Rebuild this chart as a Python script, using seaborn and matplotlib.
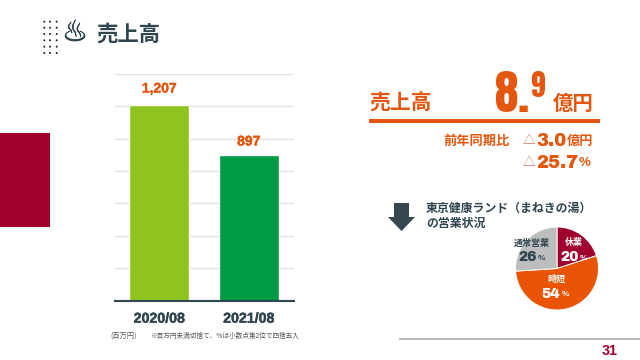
import matplotlib
matplotlib.use('Agg')
import logging
import matplotlib.pyplot as plt
import matplotlib.patheffects as pe
import pandas as pd
import seaborn as sns
from matplotlib.patches import Ellipse, Polygon, Rectangle

logging.getLogger('matplotlib.font_manager').setLevel(logging.ERROR)

periods = ['2020/08', '2021/08']
sales = [1207, 897]
bar_colors = ['#8FC31F', '#009944']
label_pads = [7, 5]

pie_labels = ['休業', '時短', '通常営業']
pie_values = [20, 54, 26]
pie_colors = ['#A0002D', '#E95504', '#BDBDBD']

DARK = '#2F4550'
ORANGE = '#E4570F'
RED = '#A0002D'
JP = ['Noto Sans CJK JP', 'DejaVu Sans']
LAT = ['Liberation Sans', 'Noto Sans CJK JP']
HEAVY = ['Archivo Black', 'Liberation Sans']
TALL = ['Anton', 'Liberation Sans']

sns.set_theme(style='whitegrid')
plt.rcParams['font.family'] = JP

W, H = 640, 360
fig = plt.figure(figsize=(6.4, 3.6), dpi=100, facecolor='white')


def px_axes(left, top, right, bottom):
    return fig.add_axes([left / W, 1 - bottom / H, (right - left) / W, (bottom - top) / H])


def txt(x, y, s, size, color=DARK, ha='left', family=JP, weight='bold', va='center', **kw):
    return fig.text(x / W, 1 - y / H, s, fontsize=size, color=color, ha=ha, va=va,
                    family=family, fontweight=weight, **kw)


def box(left, top, right, bottom, color):
    fig.add_artist(Rectangle((left / W, 1 - bottom / H), (right - left) / W, (bottom - top) / H,
                             transform=fig.transFigure, color=color, lw=0))


def stroke(t, w=0.3):
    t.set_path_effects([pe.withStroke(linewidth=w, foreground=t.get_color())])


# left block, header
box(0, 133, 50, 227, RED)
for col in [44.3, 50, 56.7]:
    for row in [21.7, 27.7, 34, 40.3, 46.7, 53]:
        fig.add_artist(Ellipse((col / W, 1 - row / H), 2 / W, 2 / H, transform=fig.transFigure,
                               color='#222222', lw=0))
stroke(txt(75, 33, '♨', 21, family=['DejaVu Sans'], ha='center', weight='normal'), 0.5)
txt(96.5, 34, '売上高', 15.4)

# bar chart
ax = px_axes(114.5, 74, 293.5, 300.5)
df = pd.DataFrame({'period': periods, 'sales': sales})
sns.barplot(data=df, x='period', y='sales', hue='period', palette=bar_colors, width=0.665,
            legend=False, saturation=1, ax=ax)
ax.set_ylim(0, 1400)
ax.set_yticks(range(0, 1401, 200))
ax.set_yticklabels([])
ax.set_xlabel('')
ax.set_ylabel('')
ax.grid(axis='y', color='#E2E2E2', lw=1)
ax.grid(axis='x', visible=False)
ax.set_axisbelow(True)
for s in ['top', 'left', 'right']:
    ax.spines[s].set_visible(False)
ax.spines['bottom'].set_color(DARK)
ax.spines['bottom'].set_linewidth(1.5)
ax.tick_params(axis='x', length=0, pad=8)
ax.tick_params(axis='y', length=0)
for t in ax.get_xticklabels():
    t.set_family(LAT)
    t.set_fontweight('bold')
    t.set_fontsize(10.2)
    t.set_color(DARK)
    stroke(t)
for cont, pad in zip(ax.containers, label_pads):
    for t in ax.bar_label(cont, fmt='{:,.0f}', padding=pad, color=ORANGE, fontsize=10, fontweight='bold', family=LAT):
        stroke(t)

txt(110, 336, '(百万円)', 5.2, color='#555555', weight='normal')
txt(150, 336, '※百万円未満切捨て、%は小数点第2位で四捨五入', 4.8, color='#555555', weight='normal')

# right block
txt(369, 103, '売上高', 15, color=ORANGE)
txt(495, 112, '8.', 34, color=ORANGE, family=TALL, va='baseline', weight='normal')
txt(530, 97, '9', 21, color=ORANGE, family=TALL, va='baseline', weight='normal')
txt(553, 103, '億円', 14.7, color=ORANGE)
box(369, 119, 600, 123, ORANGE)

txt(443, 141, '前年同期比', 9.5, color=ORANGE)
txt(523, 141, '△', 9, color='#C8775A', weight='normal')
txt(536, 146, '3.0', 13, color=ORANGE, family=HEAVY, va='baseline', weight='normal')
txt(567, 141, '億円', 9.5, color=ORANGE)
txt(523, 163, '△', 9, color='#C8775A', weight='normal')
txt(536, 168, '25.7', 13, color=ORANGE, family=HEAVY, va='baseline', weight='normal')
txt(579, 163, '%', 9.5, color=ORANGE, family=LAT)

arrow = [(394, 203), (409, 203), (409, 217), (415, 217), (401.5, 231), (388, 217), (394, 217)]
fig.add_artist(Polygon([(x / W, 1 - y / H) for x, y in arrow], closed=True, transform=fig.transFigure,
                       color='#37474F', lw=0))
txt(426, 208, '東京健康ランド（まねきの湯）', 8.6)
txt(426, 223, 'の営業状況', 8.6)

# pie
pie_ax = px_axes(515, 227, 599, 310)
pie_ax.pie(pie_values, colors=pie_colors, startangle=90, counterclock=False, radius=1,
           wedgeprops={'edgecolor': 'white', 'linewidth': 0.7})
pie_ax.set_xlim(-1, 1)
pie_ax.set_ylim(-1, 1)

txt(574, 242, pie_labels[0], 6.5, color='white', ha='center')
txt(560, 261, f'{pie_values[0]}', 10, color='white', family=HEAVY, va='baseline', weight='normal')
txt(579.5, 258, '%', 6, color='white', family=LAT)
txt(556.7, 279, pie_labels[1], 6.5, color='white', ha='center')
txt(541.5, 298, f'{pie_values[1]}', 10, color='white', family=HEAVY, va='baseline', weight='normal')
txt(561.5, 295, '%', 6, color='white', family=LAT)
txt(532, 243, pie_labels[2], 6.5, ha='center')
txt(518, 261, f'{pie_values[2]}', 10, family=HEAVY, va='baseline', weight='normal')
txt(537.5, 258, '%', 6, family=LAT)

# footer
box(399, 338, 640, 339.5, '#B5BDBD')
txt(610, 351, '31', 10.4, color=RED, ha='center', family=LAT)

fig.savefig('out.png', dpi=100)
